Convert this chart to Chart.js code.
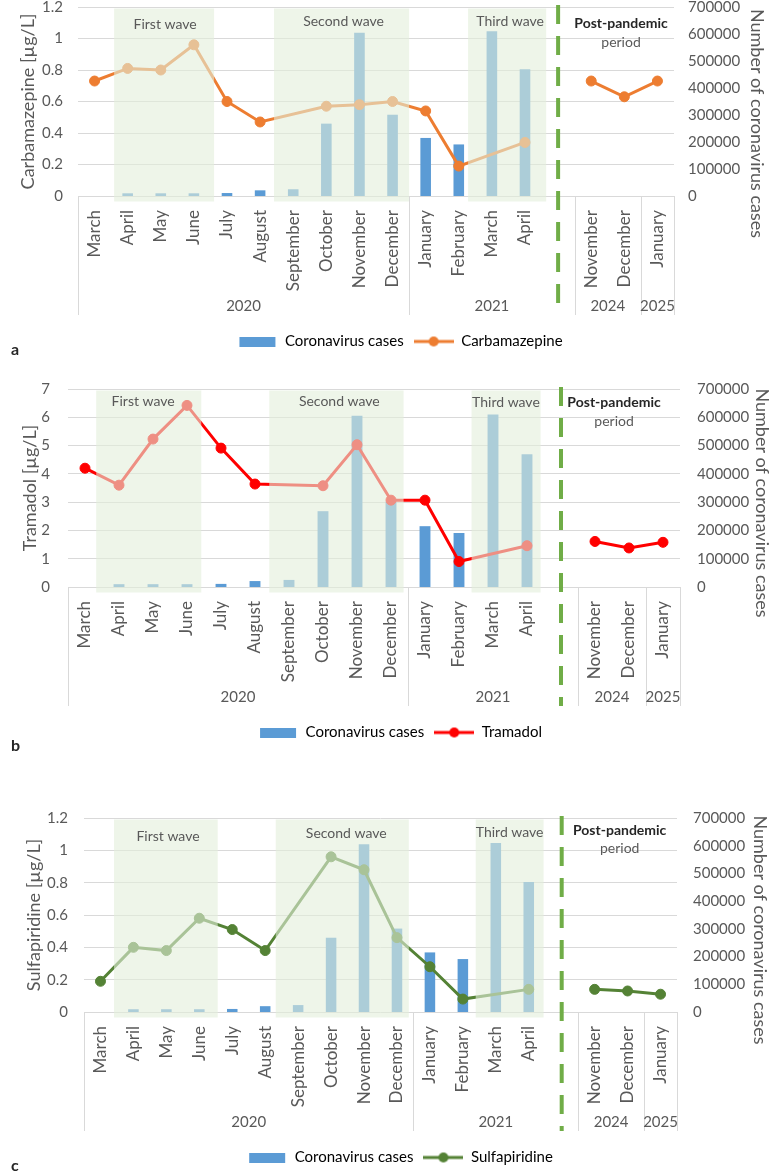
<!DOCTYPE html>
<html>
<head>
<meta charset="utf-8">
<script src="https://cdn.jsdelivr.net/npm/chart.js@4.4.1/dist/chart.umd.min.js"></script>
<style>
html, body { margin: 0; padding: 0; background: #fff; overflow: hidden; }
body { position: relative; width: 773px; height: 1173px; }
canvas { position: absolute; left: 0; }
.tag { position: absolute; left: 11px; font: bold 16px Lato, sans-serif; line-height: 18px; color: #262626; }
</style>
</head>
<body>
<canvas id="chartA" width="800" height="359" style="top:0px"></canvas>
<canvas id="chartB" width="800" height="390" style="top:360px"></canvas>
<canvas id="chartC" width="800" height="385" style="top:790px"></canvas>
<div class="tag" style="top:340px">a</div>
<div class="tag" style="top:736px">b</div>
<div class="tag" style="top:1156px">c</div>
<script>
// categories (the empty one is the gap column with the dashed line)
const months = ['March', 'April', 'May', 'June', 'July', 'August', 'September', 'October', 'November', 'December',
    'January', 'February', 'March', 'April', '', 'November', 'December', 'January'];
const years = ['2020', '2021', '2024', '2025'];
const yearSpans = [10, 5, 2, 1];
const waveNames = ['First wave', 'Second wave', 'Third wave'];
const postLabel = ['Post-pandemic', 'period'];
const casesTitle = 'Number of coronavirus cases';

// monthly coronavirus cases (right axis)
const coronavirusCases = [0, 10000, 10000, 10000, 11000, 21000, 25000, 268000, 605000, 301000,
    215000, 191000, 610000, 469000, null, null, null, null];

// concentrations, µg/L (left axis)
const carbamazepine = [0.73, 0.81, 0.80, 0.96, 0.60, 0.47, null, 0.57, 0.58, 0.60,
    0.54, 0.19, null, 0.34, null, 0.73, 0.63, 0.73];
const tramadol = [4.2, 3.6, 5.23, 6.42, 4.91, 3.64, null, 3.58, 5.03, 3.07,
    3.07, 0.9, null, 1.46, null, 1.61, 1.38, 1.58];
const sulfapiridine = [0.19, 0.40, 0.38, 0.58, 0.51, 0.38, null, 0.96, 0.88, 0.46,
    0.28, 0.08, null, 0.14, null, 0.14, 0.13, 0.11];

const FONT = 'Lato, sans-serif';
const GREY = '#595959';
const CANVAS_W = 800;
const gapIndex = months.indexOf('');

// layout of each panel (pixels / category units), kept apart from the data
const panels = [
    {
        id: 'chartA', name: 'Carbamazepine', title: 'Carbamazepine [µg/L]', values: carbamazepine, color: '#ED7D31',
        yMax: 1.2, yStep: 0.2, padTop: 7, left: 78, right: 674, leftPad: 15, rightPad: 14, leftTitlePad: 17,
        rightTitle: { x: 757, dy: 22 },
        bands: [{ from: 0.59, to: 3.61, tx: 2.13, ty: 17 }, { from: 5.42, to: 9.5, tx: 7.52, ty: 14 }, { from: 11.28, to: 13.64, tx: 12.55, ty: 14 }],
        post: { x: 15.9, y1: 16, y2: 35 }
    },
    {
        id: 'chartB', name: 'Tramadol', title: 'Tramadol [µg/L]', values: tramadol, color: '#FF0000',
        yMax: 7, yStep: 1, padTop: 29, left: 68, right: 680, leftPad: 18, rightPad: 17, leftTitlePad: 19,
        rightTitle: { x: 762, dy: 15 },
        bands: [{ from: 0.33, to: 3.42, tx: 1.71, ty: 12 }, { from: 5.42, to: 9.37, tx: 7.48, ty: 12 }, { from: 11.37, to: 13.4, tx: 12.38, ty: 13 }],
        post: { x: 15.56, y1: 13, y2: 32 }
    },
    {
        id: 'chartC', name: 'Sulfapiridine', title: 'Sulfapiridine [µg/L]', values: sulfapiridine, color: '#548235',
        yMax: 1.2, yStep: 0.2, padTop: 28, left: 84, right: 677, leftPad: 16, rightPad: 16, leftTitlePad: 23,
        rightTitle: { x: 760, dy: 15 },
        bands: [{ from: 0.41, to: 3.56, tx: 2.05, ty: 18 }, { from: 5.32, to: 9.36, tx: 7.46, ty: 15 }, { from: 11.39, to: 13.45, tx: 12.42, ty: 14 }],
        post: { x: 15.76, y1: 12, y2: 30 }
    }
];

function legendIcon(color, isLine) {
    const c = document.createElement('canvas');
    c.width = 40;
    c.height = isLine ? 12 : 10;
    const g = c.getContext('2d');
    g.fillStyle = color;
    if (isLine) {
        g.strokeStyle = color;
        g.lineWidth = 3;
        g.beginPath(); g.moveTo(0, 6); g.lineTo(40, 6); g.stroke();
        g.beginPath(); g.arc(20, 6, 5, 0, Math.PI * 2); g.fill();
    } else {
        g.fillRect(2, 0, 36, 10);
    }
    return c;
}

// don't join April 2021 to November 2024 across the gap column
// (with spanGaps, p0DataIndex is the index just before p1, i.e. the skipped gap)
const hideGap = ctx => (ctx.p0DataIndex <= gapIndex && ctx.p1DataIndex > gapIndex) ? 'rgba(0,0,0,0)' : undefined;

function decorPlugin(p) {
    return {
        id: 'decor',
        afterDatasetsDraw(chart) {
            const { ctx, chartArea: a } = chart;
            const x = chart.scales.x;
            ctx.save();
            // wave bands, translucent over bars and lines
            ctx.fillStyle = 'rgba(226,239,218,0.6)';
            p.bands.forEach(b => {
                const x0 = x.getPixelForValue(b.from), x1 = x.getPixelForValue(b.to);
                ctx.fillRect(x0, a.top + 1.5, x1 - x0, a.bottom - a.top + 4);
            });
            // dashed divider
            const dx = x.getPixelForValue(gapIndex);
            ctx.strokeStyle = '#70AD47';
            ctx.lineWidth = 4;
            ctx.setLineDash([19, 12]);
            ctx.beginPath(); ctx.moveTo(dx, a.top - 2); ctx.lineTo(dx, a.bottom + 119); ctx.stroke();
            ctx.setLineDash([]);
            // labels
            ctx.textAlign = 'center';
            ctx.textBaseline = 'middle';
            ctx.font = '14px ' + FONT;
            ctx.fillStyle = GREY;
            p.bands.forEach((b, i) => ctx.fillText(waveNames[i], x.getPixelForValue(b.tx), a.top + b.ty));
            ctx.fillText(postLabel[1], x.getPixelForValue(p.post.x), a.top + p.post.y2);
            ctx.font = 'bold 14px ' + FONT;
            ctx.fillStyle = '#262626';
            ctx.fillText(postLabel[0], x.getPixelForValue(p.post.x), a.top + p.post.y1);
            ctx.restore();
        },
        afterDraw(chart) {
            const { ctx, chartArea: a } = chart;
            const x = chart.scales.x;
            ctx.save();
            ctx.strokeStyle = '#D9D9D9';
            ctx.lineWidth = 1;
            ctx.font = '15px ' + FONT;
            ctx.fillStyle = GREY;
            ctx.textAlign = 'center';
            ctx.textBaseline = 'middle';
            let start = -0.5;
            const edge = v => Math.round(x.getPixelForValue(v)) + 0.5;
            ctx.beginPath(); ctx.moveTo(edge(start), a.bottom); ctx.lineTo(edge(start), a.bottom + 119); ctx.stroke();
            years.forEach((yr, i) => {
                const end = start + yearSpans[i];
                ctx.beginPath(); ctx.moveTo(edge(end), a.bottom); ctx.lineTo(edge(end), a.bottom + 119); ctx.stroke();
                ctx.fillText(yr, (x.getPixelForValue(start) + x.getPixelForValue(end)) / 2, a.bottom + 110);
                start = end;
            });
            // right axis title, reading downwards, sitting a little low like the original
            ctx.font = '18px ' + FONT;
            ctx.translate(p.rightTitle.x, (a.top + a.bottom) / 2 + p.rightTitle.dy);
            ctx.rotate(Math.PI / 2);
            ctx.fillText(casesTitle, 0, 0);
            ctx.restore();
        }
    };
}

panels.forEach(p => {
    new Chart(document.getElementById(p.id), {
        data: {
            labels: months,
            datasets: [
                {
                    type: 'bar', label: 'Coronavirus cases', data: coronavirusCases, yAxisID: 'y1',
                    backgroundColor: '#5B9BD5', barPercentage: 0.32, categoryPercentage: 1, order: 2,
                    icon: legendIcon('#5B9BD5', false)
                },
                {
                    type: 'line', label: p.name, data: p.values, yAxisID: 'y',
                    borderColor: p.color, backgroundColor: p.color, borderWidth: 3,
                    pointRadius: 5, pointBorderWidth: 1, pointBackgroundColor: p.color, pointBorderColor: p.color,
                    spanGaps: true, segment: { borderColor: hideGap }, order: 1,
                    icon: legendIcon(p.color, true)
                }
            ]
        },
        options: {
            responsive: false,
            animation: false,
            devicePixelRatio: 1,
            layout: { padding: { top: p.padTop, left: 0, right: 0, bottom: 0 } },
            plugins: {
                tooltip: { enabled: false },
                legend: {
                    position: 'bottom',
                    labels: {
                        usePointStyle: true,
                        pointStyleWidth: 40,
                        padding: 10,
                        color: GREY,
                        font: { family: FONT, size: 15 },
                        generateLabels: chart => chart.data.datasets.map((ds, i) => ({
                            text: ds.label, pointStyle: ds.icon, datasetIndex: i, hidden: false,
                            fillStyle: 'rgba(0,0,0,0)', strokeStyle: 'rgba(0,0,0,0)', lineWidth: 0
                        }))
                    }
                }
            },
            scales: {
                x: {
                    type: 'category', offset: true,
                    grid: { display: false, drawTicks: false },
                    border: { display: false },
                    ticks: {
                        autoSkip: false, minRotation: 90, maxRotation: 90, padding: 14,
                        color: GREY, font: { family: FONT, size: 17 }
                    },
                    afterFit: s => { s.height = 128; s.paddingLeft = 0; s.paddingRight = 0; }
                },
                y: {
                    position: 'left', min: 0, max: p.yMax,
                    ticks: {
                        stepSize: p.yStep, autoSkip: false, padding: p.leftPad, color: GREY, font: { family: FONT, size: 15 },
                        callback: v => String(Math.round(v * 10) / 10)
                    },
                    grid: { color: '#D9D9D9', drawTicks: false },
                    border: { display: false },
                    title: { display: true, text: p.title, color: GREY, font: { family: FONT, size: 18 }, padding: { top: p.leftTitlePad } },
                    afterFit: s => { s.width = p.left; s.paddingTop = 0; s.paddingBottom = 0; }
                },
                y1: {
                    position: 'right', min: 0, max: 700000,
                    ticks: {
                        stepSize: 100000, autoSkip: false, padding: p.rightPad, color: GREY, font: { family: FONT, size: 15 },
                        callback: v => String(v)
                    },
                    grid: { display: false, drawTicks: false },
                    border: { display: false },
                    afterFit: s => { s.width = CANVAS_W - p.right; s.paddingTop = 0; s.paddingBottom = 0; }
                }
            }
        },
        plugins: [decorPlugin(p)]
    });
});
</script>
</body>
</html>
